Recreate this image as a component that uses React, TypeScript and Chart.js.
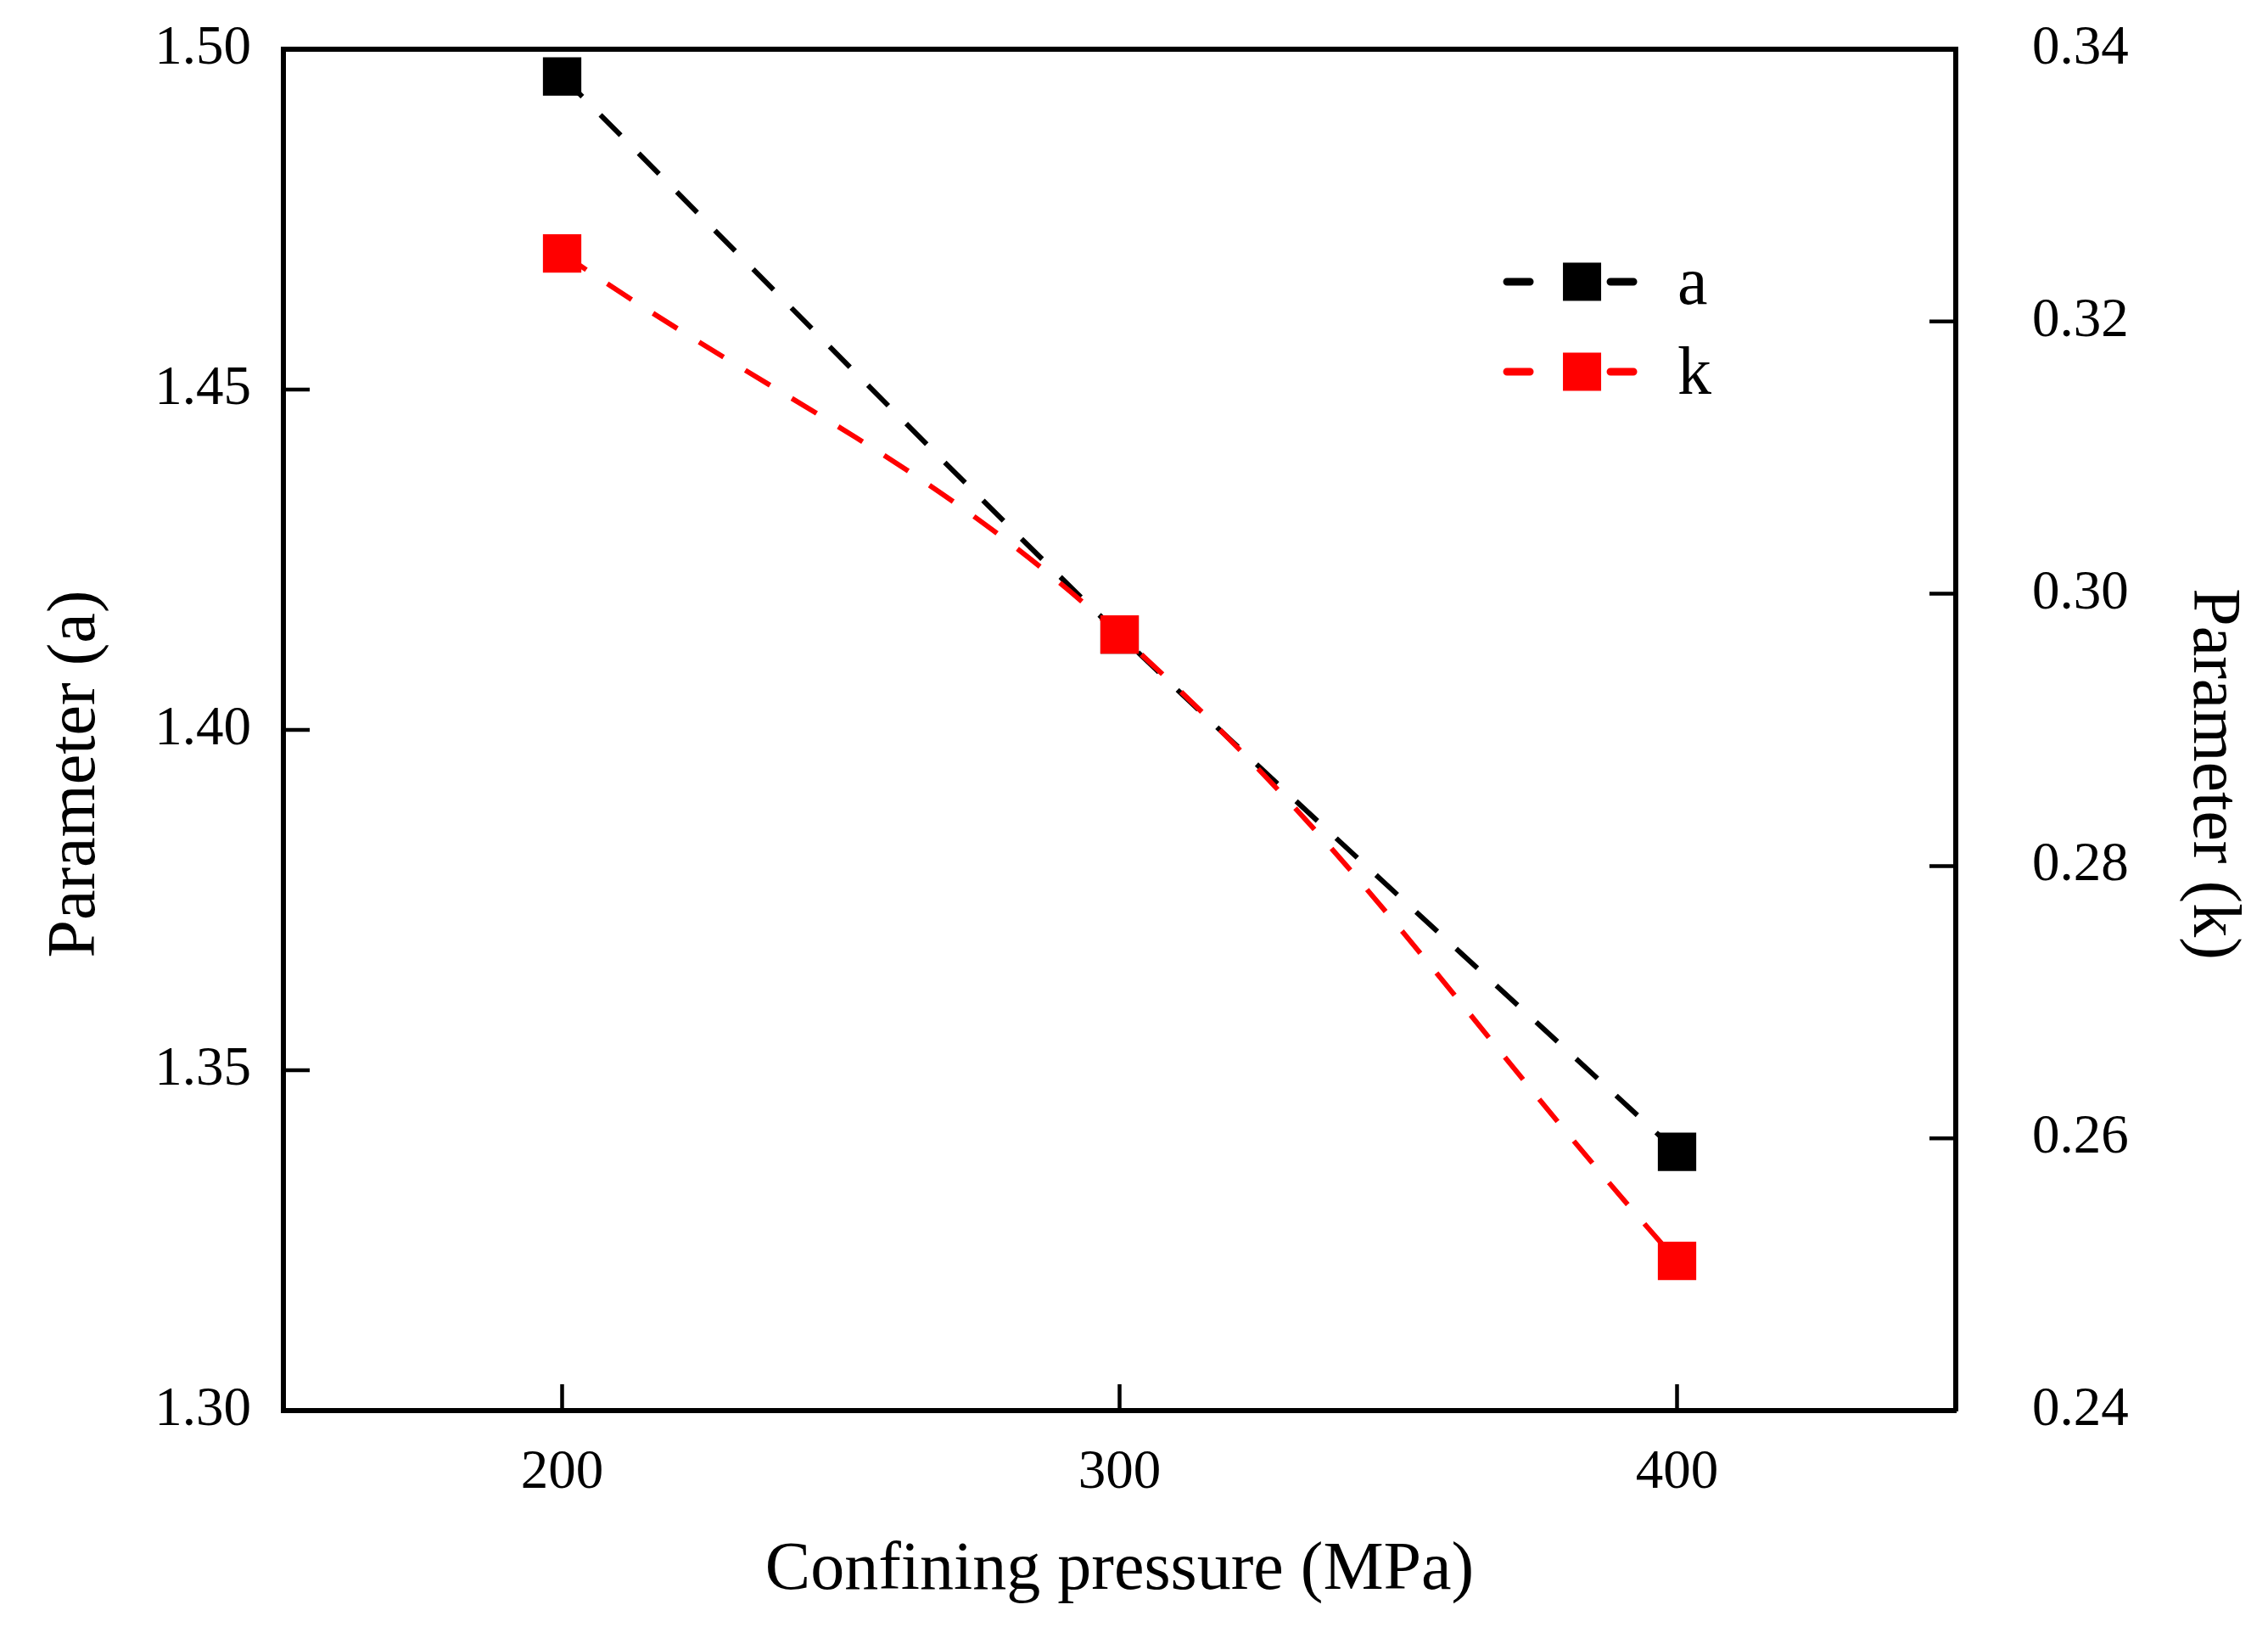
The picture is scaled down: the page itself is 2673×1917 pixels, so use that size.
import { useEffect, useRef } from 'react';
import { Chart, registerables } from 'chart.js';

Chart.register(...registerables);

// data
const pressures = [200, 300, 400];
const paramA = [1.496, 1.414, 1.338];
const paramK = [0.325, 0.297, 0.251];
const xTicks = [200, 300, 400];
const seriesNames = ['a', 'k'];
const seriesColors = ['#000000', '#ff0000'];

const xTitle = 'Confining pressure (MPa)';
const aTitle = 'Parameter (a)';
const kTitle = 'Parameter (k)';

const FONT = '"Liberation Serif", "Times New Roman", serif';

// frame, inward ticks, axis titles and the origin-style legend
const decorPlugin = {
  id: 'decor',
  afterDraw(chart: any) {
    const { ctx, chartArea: a, scales } = chart;
    const tl = 31;
    ctx.save();
    ctx.strokeStyle = '#000';
    ctx.lineCap = 'butt';

    // top border
    ctx.lineWidth = 6;
    ctx.beginPath();
    ctx.moveTo(a.left - 3, a.top);
    ctx.lineTo(a.right + 3, a.top);
    ctx.stroke();

    // inward ticks
    ctx.lineWidth = 4.5;
    ctx.beginPath();
    scales.x.ticks.forEach((t: any) => {
      const px = scales.x.getPixelForValue(t.value);
      ctx.moveTo(px, a.bottom);
      ctx.lineTo(px, a.bottom - tl);
    });
    scales.y.ticks.forEach((t: any) => {
      const py = scales.y.getPixelForValue(t.value);
      ctx.moveTo(a.left, py);
      ctx.lineTo(a.left + tl, py);
    });
    scales.y1.ticks.forEach((t: any) => {
      const py = scales.y1.getPixelForValue(t.value);
      ctx.moveTo(a.right, py);
      ctx.lineTo(a.right - tl, py);
    });
    ctx.stroke();

    // axis titles
    ctx.fillStyle = '#000';
    ctx.font = `80px ${FONT}`;
    ctx.textAlign = 'center';
    ctx.textBaseline = 'alphabetic';
    ctx.fillText(xTitle, (a.left + a.right) / 2, a.bottom + 210);

    const midY = (a.top + a.bottom) / 2 + 52;
    ctx.textBaseline = 'middle';
    ctx.save();
    ctx.translate(90, midY);
    ctx.rotate(-Math.PI / 2);
    ctx.fillText(aTitle, 0, 0);
    ctx.restore();
    ctx.save();
    ctx.translate(a.right + 302, midY);
    ctx.rotate(Math.PI / 2);
    ctx.fillText(kTitle, 0, 0);
    ctx.restore();

    // legend
    const w = a.right - a.left;
    const h = a.bottom - a.top;
    const x0 = a.left + 0.7296 * w;
    const rows = [a.top + 0.1708 * h, a.top + 0.2369 * h];
    ctx.textAlign = 'left';
    ctx.textBaseline = 'alphabetic';
    seriesNames.forEach((name, i) => {
      const y = rows[i];
      ctx.strokeStyle = seriesColors[i];
      ctx.fillStyle = seriesColors[i];
      ctx.lineWidth = 9;
      ctx.lineCap = 'round';
      ctx.beginPath();
      ctx.moveTo(x0 + 4, y);
      ctx.lineTo(x0 + 31, y);
      ctx.moveTo(x0 + 126, y);
      ctx.lineTo(x0 + 153, y);
      ctx.stroke();
      ctx.fillRect(x0 + 70, y - 22.5, 45, 45);
      ctx.fillStyle = '#000';
      ctx.fillText(name, x0 + 205, y + 26);
    });
    ctx.restore();
  },
};

export default function App() {
  const chartRef = useRef<HTMLCanvasElement>(null);

  useEffect(() => {
    document.body.style.margin = '0';
    if (!chartRef.current) return;

    const tickFont = { family: FONT, size: 65 };

    const chart = new Chart(chartRef.current, {
      type: 'line',
      data: {
        datasets: [
          {
            label: seriesNames[0],
            data: pressures.map((p, i) => ({ x: p, y: paramA[i] })),
            yAxisID: 'y',
            borderColor: seriesColors[0],
            backgroundColor: seriesColors[0],
            borderWidth: 6,
            borderDash: [34, 30],
            pointStyle: 'rect',
            pointRadius: 32,
            pointBorderWidth: 0,
            tension: 0.3,
            order: 1,
          },
          {
            label: seriesNames[1],
            data: pressures.map((p, i) => ({ x: p, y: paramK[i] })),
            yAxisID: 'y1',
            borderColor: seriesColors[1],
            backgroundColor: seriesColors[1],
            borderWidth: 6,
            borderDash: [34, 30],
            pointStyle: 'rect',
            pointRadius: 32,
            pointBorderWidth: 0,
            tension: 0.4,
            order: 0,
          },
        ],
      },
      options: {
        animation: false,
        responsive: true,
        maintainAspectRatio: false,
        devicePixelRatio: 1,
        layout: { padding: { top: 58, left: 0, right: 0, bottom: 0 } },
        plugins: {
          legend: { display: false },
          tooltip: { enabled: false },
        },
        scales: {
          x: {
            type: 'linear',
            position: 'bottom',
            min: 150,
            max: 450,
            afterBuildTicks: (scale: any) => {
              scale.ticks = xTicks.map((v) => ({ value: v }));
            },
            afterFit: (scale: any) => {
              scale.height = 255;
              scale.paddingLeft = 0;
              scale.paddingRight = 0;
            },
            grid: { display: false },
            border: { display: true, color: '#000', width: 6 },
            ticks: { color: '#000', font: tickFont, padding: 27, maxRotation: 0 },
          },
          y: {
            type: 'linear',
            position: 'left',
            min: 1.3,
            max: 1.5,
            afterFit: (scale: any) => {
              scale.width = 334;
              scale.paddingTop = 0;
              scale.paddingBottom = 0;
            },
            grid: { display: false },
            border: { display: true, color: '#000', width: 6 },
            ticks: {
              color: '#000',
              font: tickFont,
              padding: 30,
              stepSize: 0.05,
              callback: (v: any) => Number(v).toFixed(2),
            },
          },
          y1: {
            type: 'linear',
            position: 'right',
            min: 0.24,
            max: 0.34,
            afterFit: (scale: any) => {
              scale.width = 368;
              scale.paddingTop = 0;
              scale.paddingBottom = 0;
            },
            grid: { display: false },
            border: { display: true, color: '#000', width: 6 },
            ticks: {
              color: '#000',
              font: tickFont,
              padding: 82,
              stepSize: 0.02,
              callback: (v: any) => Number(v).toFixed(2),
            },
          },
        },
      },
      plugins: [decorPlugin],
    });

    return () => chart.destroy();
  }, []);

  return (
    <div style={{ position: 'relative', width: 2673, height: 1917, background: '#fff' }}>
      <canvas ref={chartRef} />
    </div>
  );
}
